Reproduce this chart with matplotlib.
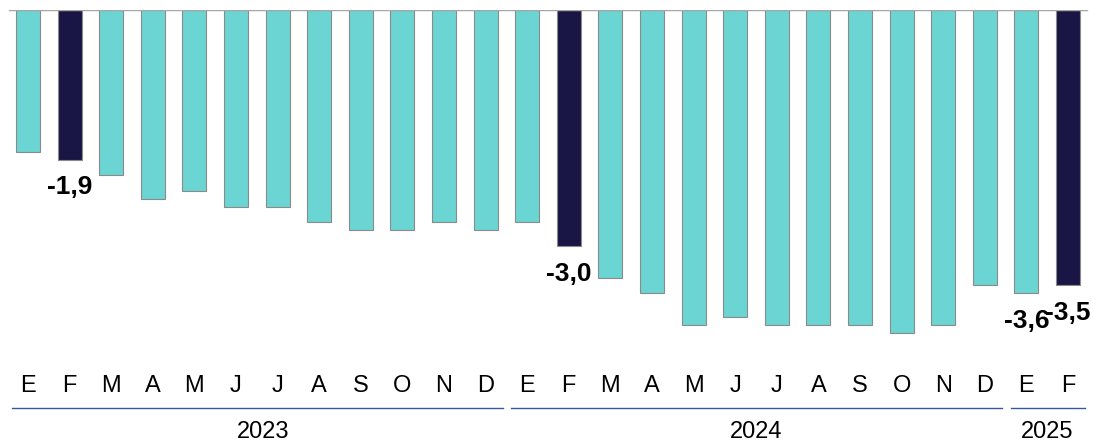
import matplotlib
matplotlib.use("Agg")
import matplotlib.pyplot as plt
import matplotlib.transforms as mtransforms

months = ["E", "F", "M", "A", "M", "J", "J", "A", "S", "O", "N", "D",
          "E", "F", "M", "A", "M", "J", "J", "A", "S", "O", "N", "D",
          "E", "F"]
values = [-1.8, -1.9, -2.1, -2.4, -2.3, -2.5, -2.5, -2.7, -2.8, -2.8, -2.7, -2.8,
          -2.7, -3.0, -3.4, -3.6, -4.0, -3.9, -4.0, -4.0, -4.0, -4.1, -4.0, -3.5,
          -3.6, -3.5]
highlight = [1, 13, 25]
labelled = [1, 13, 24, 25]
years = ["2023", "2024", "2025"]
year_ranges = [(0, 11), (12, 23), (24, 25)]

plt.rcParams['font.family'] = ['Liberation Sans', 'DejaVu Sans']

W, H = 1097, 441
fig = plt.figure(figsize=(W / 100, H / 100), dpi=100)
left_px, right_px = 7.2, 1088.8
top_px, bottom_px = 10, 350
ax = fig.add_axes([left_px / W, 1 - bottom_px / H, (right_px - left_px) / W, (bottom_px - top_px) / H])

teal = "#6AD5D2"
navy = "#191645"
colors = [navy if i in highlight else teal for i in range(len(values))]
x = list(range(len(values)))
ax.bar(x, values, width=0.58, color=colors, edgecolor="#8a8a8a", linewidth=0.8, zorder=2)
ax.axhline(0, color="#a6a6a6", linewidth=1.0, zorder=3, xmin=0.002, xmax=0.998)

ax.set_xlim(-0.5, len(values) - 0.5)
ax.set_ylim(-(bottom_px - top_px) / 78.7, 0)

for i in labelled:
    ax.annotate(f"{values[i]:.1f}".replace(".", ","), (i, values[i]),
                xytext=(0, -20), textcoords="offset points",
                ha="center", va="center", fontsize=19, fontweight="bold", color="black")

ax.set_xticks(x)
ax.set_xticklabels(months, fontsize=17)
ax.tick_params(axis="x", length=0, pad=18)
ax.set_yticks([])
for s in ax.spines.values():
    s.set_visible(False)

trans = mtransforms.blended_transform_factory(ax.transData, fig.transFigure)
y_line = 1 - 408 / H
y_year = 1 - 432 / H
for yr, (a, b) in zip(years, year_ranges):
    ax.plot([a - 0.38, b + 0.42], [y_line, y_line], transform=trans, color="#3557A0",
            linewidth=1.0, clip_on=False)
    ax.text((a + b) / 2 + (0.15 if a == 0 else 0), y_year, yr, transform=trans,
            ha="center", va="center", fontsize=17)

fig.savefig("out.png", dpi=100)
